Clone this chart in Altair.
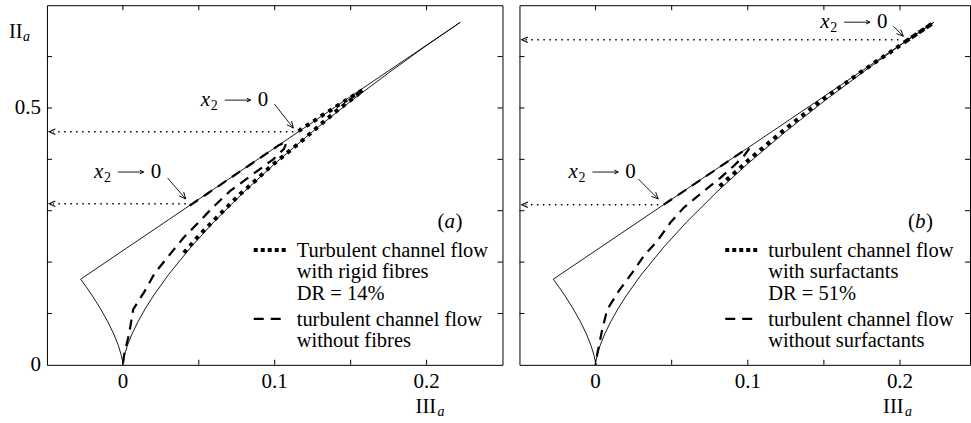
import altair as alt
import pandas as pd

# ---------------- data ----------------
# Lumley-triangle boundaries (III_a, II_a)
LEFT_III = [-0.0278, -0.024, -0.020, -0.015, -0.010, -0.006, -0.003, -0.001, -0.0003, -0.0001, 0.0]
LEFT_II = [0.1667, 0.1512, 0.1339, 0.1105, 0.0843, 0.060, 0.0378, 0.0182, 0.0081, 0.0039, 0.0]
RIGHT_III = [0.0001, 0.0003, 0.001, 0.003, 0.006, 0.010, 0.015, 0.020, 0.030, 0.045, 0.060,
             0.080, 0.100, 0.125, 0.150, 0.175, 0.200, 0.2222]
RIGHT_II = [0.0039, 0.0081, 0.0182, 0.0378, 0.060, 0.0843, 0.1105, 0.1339, 0.1754, 0.2298, 0.2785,
            0.3374, 0.3915, 0.4543, 0.5130, 0.5683, 0.6217, 0.6667]
TWOC_III = [0.2222, -0.0278]
TWOC_II = [0.6667, 0.1667]

# panel (a): without fibres (dashed) and with rigid fibres (dotted)
A_DASH_III = [0.044, 0.056, 0.070, 0.083, 0.095, 0.103, 0.108, 0.106, 0.099, 0.0837, 0.0705,
              0.0587, 0.0488, 0.0398, 0.031, 0.0211, 0.0145, 0.0068, 0.0041, 0.0009, 0.0]
A_DASH_II = [0.310, 0.334, 0.362, 0.388, 0.412, 0.428, 0.434, 0.420, 0.400, 0.367, 0.338,
             0.305, 0.274, 0.247, 0.215, 0.179, 0.144, 0.108, 0.060, 0.021, 0.0]
A_DOT_III = [0.1156, 0.1255, 0.132, 0.1376, 0.143, 0.1486, 0.154, 0.158, 0.155, 0.1516, 0.141,
             0.131, 0.1167, 0.1079, 0.0969, 0.087, 0.0771, 0.0683, 0.0595, 0.0508, 0.039]
A_DOT_II = [0.455, 0.474, 0.487, 0.497, 0.508, 0.518, 0.528, 0.535, 0.527, 0.519, 0.495,
            0.470, 0.433, 0.412, 0.385, 0.358, 0.332, 0.306, 0.280, 0.254, 0.214]

# panel (b): without surfactants (dashed) and with surfactants (dotted)
B_DASH_III = [0.0448, 0.058, 0.072, 0.085, 0.096, 0.101, 0.097, 0.0907, 0.082, 0.071, 0.058,
              0.0492, 0.0405, 0.0317, 0.024, 0.0153, 0.0077, 0.0044, 0.0011, 0.0]
B_DASH_II = [0.312, 0.338, 0.366, 0.392, 0.414, 0.421, 0.405, 0.387, 0.364, 0.338, 0.306,
             0.277, 0.241, 0.212, 0.179, 0.144, 0.108, 0.069, 0.021, 0.0]
B_DOT_III = [0.204, 0.208, 0.214, 0.2195, 0.2215, 0.215, 0.205, 0.1934, 0.1847, 0.1749, 0.165,
             0.1541, 0.1433, 0.1323, 0.1213, 0.1082, 0.0995, 0.0918, 0.0842, 0.080]
B_DOT_II = [0.630, 0.638, 0.650, 0.661, 0.665, 0.652, 0.632, 0.608, 0.591, 0.571, 0.550,
            0.527, 0.503, 0.477, 0.451, 0.418, 0.396, 0.375, 0.355, 0.343]

X_LABELS = [0, 0.1, 0.2]
Y_LABELS = [0, 0.5]
X_TICKS = [0, 0.05, 0.1, 0.15, 0.2]
Y_TICKS = [0.1, 0.2, 0.3, 0.4, 0.5, 0.6]

LEGEND_A = ["Turbulent channel flow", "with rigid fibres", "DR = 14%",
            "turbulent channel flow", "without fibres"]
LEGEND_B = ["turbulent channel flow", "with surfactants", "DR = 51%",
            "turbulent channel flow", "without surfactants"]

# ---------------- helpers ----------------
FONT = "Liberation Serif"
H = 360
YMAX = 0.7
ARROW = "M-1,-0.45L0,0L-1,0.45"
Y_SCALE = alt.Scale(domain=[0, YMAX], nice=False, zero=False)


def line_df(xs, ys):
    return pd.DataFrame({"III": xs, "II": ys, "o": list(range(len(xs)))})


def fmt(v):
    return f"{v:g}"


def panel(width, xmax, dash, dot, harrows, darrows, x2pos, legend, tag, show_y):
    xs = alt.Scale(domain=[-0.05, xmax], nice=False, zero=False)

    def fx(px):  # layout pixel -> data x
        return -0.05 + px / width * (xmax + 0.05)

    def fy(py):  # layout pixel -> data y
        return YMAX * (1 - py / H)

    X = lambda f: alt.X(f, type="quantitative", scale=xs, axis=None)
    Y = lambda f: alt.Y(f, type="quantitative", scale=Y_SCALE, axis=None)

    def ptext(rows, italic=False, align="left", baseline="alphabetic"):
        df = pd.DataFrame(rows, columns=["x", "y", "t", "s"])
        return alt.Chart(df).mark_text(
            font=FONT, align=align, baseline=baseline, color="black",
            fontStyle="italic" if italic else "normal"
        ).encode(x=X("x"), y=Y("y"), text="t:N", size=alt.Size("s:Q", scale=None, legend=None))

    def prules(rows, **style):
        df = pd.DataFrame([(fx(a), fx(b), fy(c)) for a, b, c in rows], columns=["x", "x2", "y"])
        return alt.Chart(df).mark_rule(color="black", **style).encode(x=X("x"), x2="x2:Q", y=Y("y"))

    def pheads(rows, size):
        df = pd.DataFrame([(fx(a), fy(b), g) for a, b, g in rows], columns=["x", "y", "ang"])
        return alt.Chart(df).mark_point(
            shape=ARROW, filled=False, color="black", strokeWidth=1, size=size, opacity=1
        ).encode(x=X("x"), y=Y("y"), angle=alt.Angle("ang:Q", scale=None))

    bound = alt.Chart(line_df(LEFT_III + RIGHT_III + TWOC_III, LEFT_II + RIGHT_II + TWOC_II)).mark_line(
        color="black", strokeWidth=0.9).encode(x=X("III"), y=Y("II"), order="o:Q")
    dashed = alt.Chart(line_df(*dash)).mark_line(
        color="black", strokeWidth=2.2, strokeDash=[10, 7]).encode(
        x=X("III"), y=Y("II"), order="o:Q")
    dotted = alt.Chart(line_df(*dot)).mark_line(
        color="black", strokeWidth=4, strokeDash=[4, 5], strokeCap="butt").encode(
        x=X("III"), y=Y("II"), order="o:Q")

    # horizontal dotted arrows to the II axis
    hdf = pd.DataFrame(harrows, columns=["x0", "y"])
    hdf["x1"] = -0.046
    hdf["xt"] = -0.0485
    hdf["ang"] = 180
    hline = alt.Chart(hdf).mark_rule(color="black", strokeWidth=1.5, strokeDash=[1.5, 4.5]).encode(
        x=X("x0"), x2="x1:Q", y=Y("y"))
    hhead = alt.Chart(hdf).mark_point(shape=ARROW, filled=False, color="black", strokeWidth=1.1,
                                      size=150, opacity=1).encode(
        x=X("xt"), y=Y("y"), angle=alt.Angle("ang:Q", scale=None))

    # diagonal pointer arrows
    ddf = pd.DataFrame(darrows, columns=["x0", "y0", "x1", "y1", "ang"])
    dline = alt.Chart(ddf).mark_rule(color="black", strokeWidth=0.9).encode(
        x=X("x0"), y=Y("y0"), x2="x1:Q", y2="y1:Q")
    dhead = alt.Chart(ddf).mark_point(shape=ARROW, filled=False, color="black", strokeWidth=0.9,
                                      size=180, opacity=1).encode(
        x=X("x1"), y=Y("y1"), angle=alt.Angle("ang:Q", scale=None))

    # "x2 -> 0" labels, legend, tag, axis titles (pixel layout)
    normal, italic, rules, heads = [], [], [], []
    for ax, ay in x2pos:
        italic.append((fx(ax), fy(ay), "x", 21))
        normal.append((fx(ax + 10), fy(ay + 4), "2", 14))
        normal.append((fx(ax + 57), fy(ay), "0", 21))
        rules.append((ax + 24, ax + 49, ay - 6))
        heads.append((ax + 50, ay - 6, 0))
    lx, tx = legend
    for txt, by in zip(LEGEND_A if tag == "a" else LEGEND_B, [252, 273.5, 295, 321, 342.5]):
        normal.append((fx(tx), fy(by), txt, 20.5))
    tgx = 391 if tag == "a" else 389
    normal.append((fx(tgx), fy(223), "(", 21))
    italic.append((fx(tgx + 7), fy(223), tag, 21))
    normal.append((fx(tgx + 18), fy(223), ")", 21))
    normal.append((fx(width - 87), fy(408), "III", 20.5))
    italic.append((fx(width - 65), fy(411), "a", 14))
    if show_y:
        normal.append((fx(-38), fy(33), "II", 20.5))
        italic.append((fx(-24), fy(36), "a", 14))

    # tick labels
    xl = [(v, fy(383), fmt(v), 21) for v in X_LABELS]
    yl = [(fx(-6), v, fmt(v), 21) for v in Y_LABELS] if show_y else []

    legend_dot = prules([(lx, lx + 32, 245)], strokeWidth=4, strokeDash=[4, 3], strokeCap="butt")
    legend_dash = prules([(lx, lx + 27, 314)], strokeWidth=2.2, strokeDash=[10, 7])

    # inward ticks
    txdf = pd.DataFrame({"t": X_TICKS})
    tydf = pd.DataFrame({"t": Y_TICKS})
    tk = dict(color="black", thickness=1, size=5, opacity=1)
    t_bot = alt.Chart(txdf).mark_tick(orient="vertical", **tk).encode(x=X("t"), y=alt.value(H - 2.5))
    t_top = alt.Chart(txdf).mark_tick(orient="vertical", **tk).encode(x=X("t"), y=alt.value(2.5))
    t_left = alt.Chart(tydf).mark_tick(orient="horizontal", **tk).encode(y=Y("t"), x=alt.value(2.5))
    t_right = alt.Chart(tydf).mark_tick(orient="horizontal", **tk).encode(y=Y("t"), x=alt.value(width - 2.5))

    layers = [
        bound, dashed, dotted, hline, hhead, dline, dhead,
        t_bot, t_top, t_left, t_right,
        prules(rules, strokeWidth=0.9), pheads(heads, 64),
        legend_dot, legend_dash,
        ptext(normal), ptext(italic, italic=True),
        ptext(xl, align="center"),
    ]
    if yl:
        layers.append(ptext(yl, align="right", baseline="middle"))
    return alt.layer(*layers).properties(width=width, height=H)


panel_a = panel(
    456, 0.25,
    (A_DASH_III, A_DASH_II), (A_DOT_III, A_DOT_II),
    harrows=[(0.1123, 0.4536), (0.0414, 0.3136)],
    darrows=[(0.0998, 0.5075, 0.1123, 0.4608, 51.6), (0.0295, 0.3636, 0.0414, 0.3228, 49.2)],
    x2pos=[(154, 101), (47, 173)],
    legend=(207, 250), tag="a", show_y=True)

panel_b = panel(
    451, 0.246,
    (B_DASH_III, B_DASH_II), (B_DOT_III, B_DOT_II),
    harrows=[(0.199, 0.633), (0.0412, 0.3115)],
    darrows=[(0.1957, 0.659, 0.2022, 0.6396, 45), (0.0281, 0.3617, 0.0412, 0.3228, 45)],
    x2pos=[(301, 23), (49, 173)],
    legend=(206, 249), tag="b", show_y=False)

chart = alt.hconcat(panel_a, panel_b, spacing=17, bounds="flush").properties(
    padding={"left": 8, "top": 4, "right": 0, "bottom": 0}
).configure_view(
    stroke="black", strokeWidth=1
)

chart.save("out.html", embed_options={"renderer": "svg", "actions": False})
